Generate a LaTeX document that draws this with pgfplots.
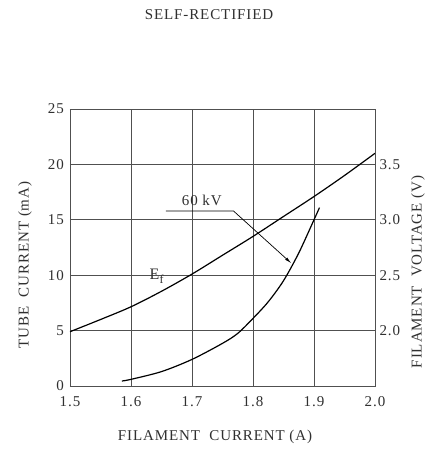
\documentclass[border=0pt]{standalone}
\usepackage{fontspec}
\setmainfont{Liberation Serif}
\newfontfamily\lsfont[LetterSpace=6]{Liberation Serif}
\usepackage{pgfplots}
\pgfplotsset{compat=1.18}
\usetikzlibrary{arrows.meta}
\definecolor{ink}{HTML}{303030}
\definecolor{gridc}{HTML}{505050}

\begin{document}
\begin{tikzpicture}
\path[use as bounding box] (-70pt,-65pt) rectangle (355pt,386pt);
\pgfplotsset{
  every axis/.append style={
    scale only axis, width=305pt, height=277pt,
    at={(0pt,0pt)}, anchor=south west,
    xmin=1.5, xmax=2.0,
    major tick length=0pt,
    /pgf/number format/assume math mode=true,
    tick label style={font=\lsfont\fontsize{15}{17}\selectfont, text=ink},
    axis line style={gridc, line width=0.8pt},
  },
}
% left axis: tube current
\begin{axis}[
  ymin=0, ymax=25,
  xtick={1.5,1.6,1.7,1.8,1.9,2.0},
  ytick={0,5,10,15,20,25},
  xticklabel style={/pgf/number format/fixed, /pgf/number format/fixed zerofill,
    /pgf/number format/precision=1, yshift=-9pt, inner sep=1pt},
  yticklabel style={inner sep=1pt, xshift=-5pt},
  grid=major,
  major grid style={gridc, line width=0.7pt},
]
% 60 kV curve
\addplot[black, line width=1.2pt, smooth] coordinates {
(1.585,0.45) (1.6,0.6) (1.65,1.3) (1.7,2.4) (1.75,3.85) (1.775,4.75)
(1.8,6.1) (1.825,7.6) (1.85,9.5) (1.875,12.0) (1.9,15.0) (1.909,16.1)
};
\node[text=ink, font=\lsfont\fontsize{15}{17}\selectfont] at (axis cs:1.716,16.75) {60 kV};
\draw[black, line width=0.7pt, -{Latex[length=7pt,width=3pt]}]
  (axis cs:1.657,15.8) -- (axis cs:1.768,15.8) -- (axis cs:1.863,11.07);
\node[text=ink, font=\fontsize{16}{18}\selectfont] at (axis cs:1.642,9.9)
  {E\raisebox{-0.5ex}{\fontsize{12}{14}\selectfont f}};
\end{axis}
% right axis: filament voltage
\begin{axis}[
  ymin=1.5, ymax=4.0,
  axis y line*=right, axis x line=none,
  ytick={2.0,2.5,3.0,3.5},
  yticklabel style={/pgf/number format/fixed, /pgf/number format/fixed zerofill,
    /pgf/number format/precision=1, xshift=1pt},
]
% E_f curve
\addplot[black, line width=1.2pt, smooth] coordinates {
(1.5,1.99) (1.55,2.10) (1.6,2.215) (1.65,2.355) (1.7,2.51) (1.75,2.68)
(1.8,2.85) (1.85,3.03) (1.9,3.21) (1.95,3.40) (2.0,3.60)
};
\end{axis}
\node[text=ink, font=\lsfont\fontsize{15}{17}\selectfont] at (139pt,371pt) {SELF-RECTIFIED};
\node[text=ink, font=\lsfont\fontsize{15}{17}\selectfont] at (145pt,-51pt) {FILAMENT\ \ CURRENT (A)};
\node[text=ink, font=\lsfont\fontsize{15}{17}\selectfont, rotate=90] at (-45pt,121pt) {TUBE\ \ CURRENT (mA)};
\node[text=ink, font=\lsfont\fontsize{15}{17}\selectfont, rotate=90] at (348pt,114pt) {FILAMENT\ \ VOLTAGE (V)};
\end{tikzpicture}
\end{document}
